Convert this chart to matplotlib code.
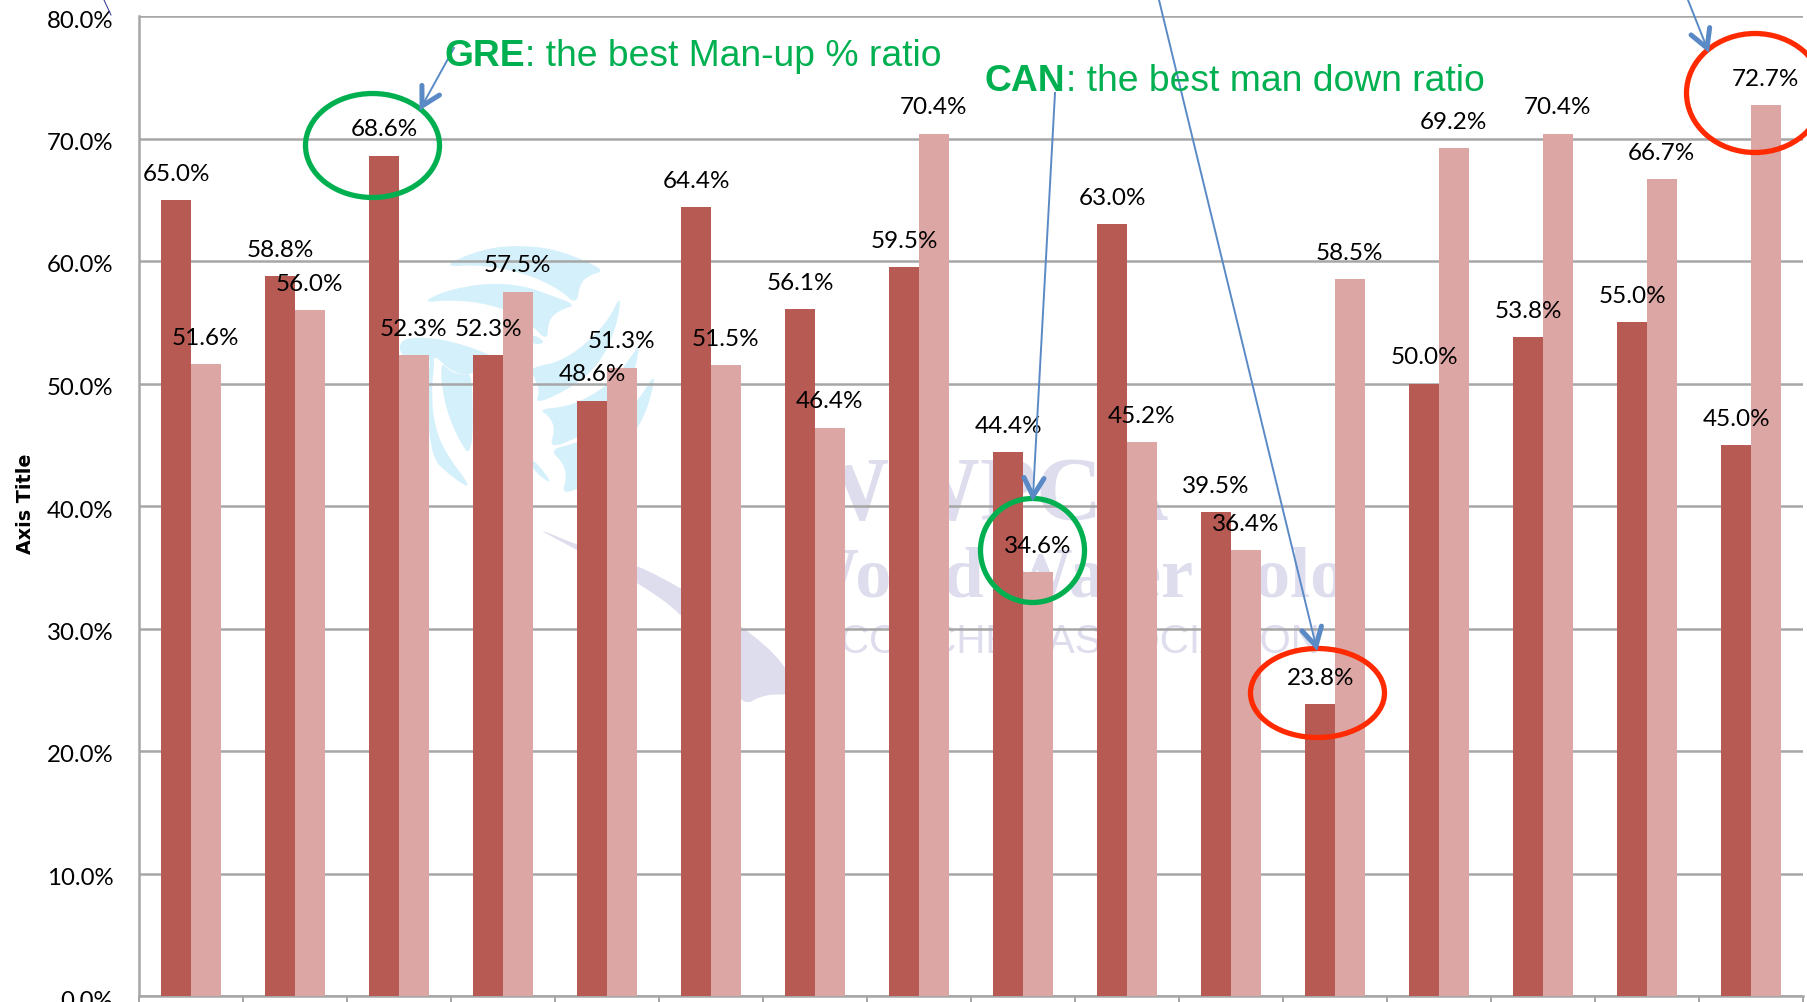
import numpy as np
import matplotlib
matplotlib.use("Agg")
import matplotlib.pyplot as plt
from matplotlib.lines import Line2D
from matplotlib.patches import Ellipse, Polygon
from matplotlib.ticker import StrMethodFormatter
from matplotlib.transforms import ScaledTranslation

# values
man_up = [65.0, 58.8, 68.6, 52.3, 48.6, 64.4, 56.1, 59.5, 44.4, 63.0, 39.5, 23.8, 50.0, 53.8, 55.0, 45.0]
man_down = [51.6, 56.0, 52.3, 57.5, 51.3, 51.5, 46.4, 70.4, 34.6, 45.2, 36.4, 58.5, 69.2, 70.4, 66.7, 72.7]
y_ticks = [0, 10, 20, 30, 40, 50, 60, 70, 80]

W, H = 1807, 1002
DARK = "#B85A54"
LIGHT = "#DBA6A3"
GRID = "#A6A6A6"
GREEN = "#00B050"
RED = "#FF2A00"
BLUE = "#5A8AC6"
SKY = "#D4F0FB"
LAV = "#DDDDED"

plt.rcParams["font.family"] = ["Lato", "DejaVu Sans"]


# pixel position in the picture -> figure fraction
def px(x, y):
    return x / W, 1 - y / H


def smooth(points, n=2):
    p = np.array(points, dtype=float)
    for _ in range(n):
        q = np.roll(p, -1, axis=0)
        p = np.column_stack([0.75 * p + 0.25 * q, 0.25 * p + 0.75 * q]).reshape(-1, 2)
    return p


def blob(points, color, from_zoom=False):
    p = smooth(points)
    if from_zoom:
        p = p / 3 + [400, 230]
    p = np.column_stack([p[:, 0] / W, 1 - p[:, 1] / H])
    fig.add_artist(Polygon(p, closed=True, fc=color, ec="none", zorder=-2, transform=fig.transFigure))


def arrow(x0, y0, x1, y1):
    fig.add_artist(Line2D([x0 / W, x1 / W], [1 - y0 / H, 1 - y1 / H], color=BLUE, lw=1.4, zorder=6))
    d = np.array([x1 - x0, y1 - y0], dtype=float)
    d = d / np.hypot(*d)
    n = np.array([-d[1], d[0]])
    tip = np.array([x1, y1])
    a = tip - 18 * d + 10 * n
    b = tip - 18 * d - 10 * n
    fig.add_artist(Line2D([a[0] / W, x1 / W, b[0] / W], [1 - a[1] / H, 1 - y1 / H, 1 - b[1] / H],
                          color=BLUE, lw=3.6, zorder=6, solid_capstyle="round", solid_joinstyle="miter"))


def ring(x0, x1, y0, y1, color):
    # x0..y1 are the outer edges of the stroke
    x0, x1, y0, y1 = x0 + 2.5, x1 - 2.5, y0 + 2.5, y1 - 2.5
    cx, cy = px((x0 + x1) / 2, (y0 + y1) / 2)
    fig.add_artist(Ellipse((cx, cy), (x1 - x0) / W, (y1 - y0) / H, fc="none", ec=color, lw=3.8,
                           zorder=5, transform=fig.transFigure))


fig = plt.figure(figsize=(W / 100, H / 100), dpi=100)
ax = fig.add_axes([139 / W, 1 - 996 / H, (1803 - 139) / W, (996 - 16) / H])
ax.patch.set_alpha(0)

# watermark behind the chart
swirl = [
    [(130, 110), (200, 75), (280, 52), (360, 47), (450, 55), (540, 85), (615, 122), (570, 135), (540, 160), (530, 225), (480, 180), (400, 140), (320, 118), (230, 105)],
    [(65, 218), (130, 185), (220, 165), (300, 160), (380, 170), (450, 195), (530, 225), (480, 240), (445, 270), (442, 335), (390, 280), (320, 240), (240, 218), (150, 210)],
    [(0, 325), (100, 322), (218, 352), (300, 390), (218, 430), (190, 435), (150, 420), (120, 392), (105, 380), (85, 400), (0, 380)],
    [(85, 380), (105, 382), (95, 470), (100, 570), (130, 660), (220, 780), (160, 745), (85, 675)],
    [(120, 392), (150, 425), (190, 435), (218, 430), (218, 690), (170, 620), (130, 510)],
    [(396, 412), (480, 395), (560, 340), (625, 270), (665, 190), (650, 290), (600, 400), (520, 470), (405, 525), (420, 480), (396, 430)],
    [(415, 538), (500, 530), (580, 495), (650, 440), (700, 370), (720, 340), (705, 420), (670, 510), (600, 580), (530, 625), (448, 655), (465, 600), (450, 560)],
    [(448, 658), (530, 640), (620, 590), (710, 520), (770, 420), (745, 530), (710, 600), (640, 700), (560, 765), (485, 795), (500, 740), (490, 700)],
    [(396, 345), (440, 338), (396, 310)],
    [(396, 680), (465, 770), (396, 720)],
]
for s in swirl:
    blob(s, SKY, from_zoom=True)
blob([(532, 526), (577, 545), (637, 565), (681, 588), (741, 625), (785, 663), (795, 695), (765, 694), (741, 707), (720, 660), (681, 613), (637, 582), (577, 550)], LAV)

fig.text(*px(983, 520), "WWPCA", color=LAV, fontsize=66, family="Liberation Serif", weight="bold", ha="center", va="baseline", zorder=-1)
fig.text(*px(1067, 597), "World Water Polo", color=LAV, fontsize=52, family="Liberation Serif", weight="bold", ha="center", va="baseline", zorder=-1)
fig.text(*px(1080, 653), "COACHES ASSOCIATION", color=LAV, fontsize=29, family="Liberation Sans", ha="center", va="baseline", zorder=-1)

# bars
x = np.arange(len(man_up)) + 0.5
w = 0.286
ax.bar(x - w / 2, man_up, w, color=DARK, zorder=3)
ax.bar(x + w / 2, man_down, w, color=LIGHT, zorder=3)

for xi, v in zip(x - w / 2, man_up):
    ax.annotate(f"{v:.1f}%", (xi, v), xytext=(0, 18.5), textcoords="offset points", ha="center", va="center",
                fontsize=17.5, color="black", zorder=5, annotation_clip=False)
for xi, v in zip(x + w / 2, man_down):
    ax.annotate(f"{v:.1f}%", (xi, v), xytext=(0, 18.5), textcoords="offset points", ha="center", va="center",
                fontsize=17.5, color="black", zorder=5, annotation_clip=False)

# axes
ax.set_xlim(0, 16)
ax.set_ylim(0, 80)
ax.set_yticks(y_ticks)
ax.set_xticks(np.arange(0, 17))
ax.set_xticklabels([])
ax.yaxis.set_major_formatter(StrMethodFormatter("{x:.1f}%"))
ax.grid(axis="y", color=GRID, lw=1.8, zorder=1)
ax.set_axisbelow(True)
for name in ["top", "right"]:
    ax.spines[name].set_visible(False)
for name in ["left", "bottom"]:
    ax.spines[name].set_color(GRID)
    ax.spines[name].set_linewidth(1.8)
ax.tick_params(axis="y", length=0, pad=18.5, labelsize=17.3)
ax.tick_params(axis="x", length=8, width=1.4, color=GRID)
shift = ScaledTranslation(0, -3 / 100, fig.dpi_scale_trans)
for lab in ax.get_yticklabels():
    lab.set_transform(lab.get_transform() + shift)
ax.set_ylabel("Axis Title", family="DejaVu Sans", weight="bold", fontsize=13.8)
ax.yaxis.set_label_coords((35 - 139) / (1803 - 139), 0.502)

# callouts
fig.text(*px(445, 56), "GRE", color=GREEN, fontsize=26.8, family="Liberation Sans", weight="bold", va="center", zorder=7)
fig.text(*px(525, 56), ": the best Man-up % ratio", color=GREEN, fontsize=26.8, family="Liberation Sans", va="center", zorder=7)
fig.text(*px(985, 82), "CAN", color=GREEN, fontsize=26.8, family="Liberation Sans", weight="bold", va="center", zorder=7)
fig.text(*px(1066, 82), ": the best man down ratio", color=GREEN, fontsize=26.8, family="Liberation Sans", va="center", zorder=7)

ring(303, 442, 91, 200, GREEN)
ring(978, 1087, 496, 605, GREEN)
ring(1248, 1387, 646, 740, RED)
ring(1684, 1826, 31, 155, RED)

arrow(454, 48, 422, 106)
arrow(1055, 93, 1033, 496)
arrow(1159, 0, 1316, 646)
arrow(1688, 0, 1707, 48)
fig.add_artist(Line2D([104 / W, 111 / W], [1, 1 - 15 / H], color="#2B2B8C", lw=0.7, zorder=6))

fig.savefig("out.png", dpi=100)
